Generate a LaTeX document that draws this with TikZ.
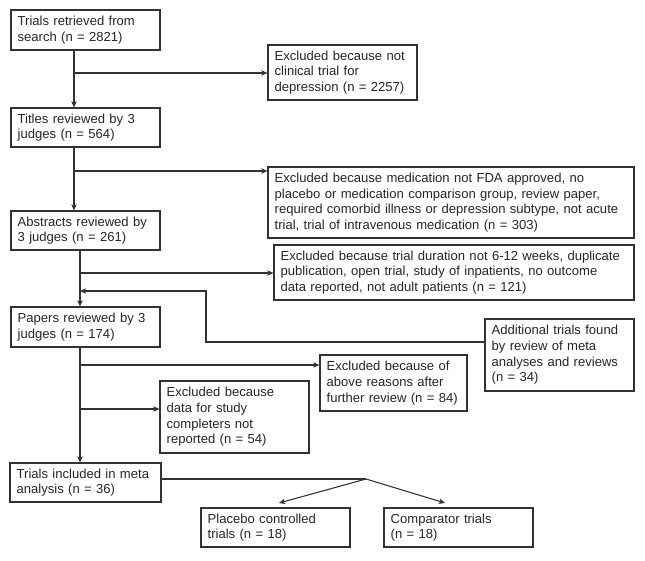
\documentclass[tikz,border=0pt]{standalone}
\usepackage{fontspec}
\setmainfont{Liberation Sans}
\usetikzlibrary{calc,arrows.meta}
\tikzset{
    box/.style={draw=black!80, line width=0.9pt, align=left, inner xsep=5pt, inner ysep=0pt,
      minimum width=111.75pt, text width=101.75pt, text=black!85, font=\fontsize{9.8}{11.8}\selectfont},
    fleche/.style={draw=black!80, line width=0.8pt, -{Stealth[length=4.5pt,width=4pt,inset=1pt]}},
    trait/.style={draw=black!80, line width=0.8pt},
  }
\begin{document}
\begin{tikzpicture}[x=0.75pt,y=-0.75pt]
	\useasboundingbox (0,0) rectangle (645,560);
	%main column
	\node[box, minimum height=30pt] (search) at (85.5,30) {Trials retrieved from\\search (n = 2821)};
	\node[box, minimum height=29.25pt] (titles) at (85.5,127.5) {Titles reviewed by 3\\judges (n = 564)};
	\node[box, minimum height=29.25pt] (abstracts) at (85.5,230.5) {Abstracts reviewed by\\3 judges (n = 261)};
	\node[box, minimum height=30pt] (papers) at (85.5,327) {Papers reviewed by 3\\judges (n = 174)};
	\node[box, minimum height=29.25pt, minimum width=113.25pt, text width=103.25pt] (included) at (85.5,482.5) {Trials included in meta\\analysis (n = 36)};
	
	%exclusions
	\node[box, minimum height=41.25pt] (ex1) at (342.5,72.5) {Excluded because not\\clinical trial for\\depression (n = 2257)};
	\node[box, minimum height=53.25pt, minimum width=274.5pt, text width=264.5pt] (ex2) at (451,202.5) {Excluded because medication not FDA approved, no\\placebo or medication comparison group, review paper,\\required comorbid illness or depression subtype, not acute\\trial, trial of intravenous medication (n = 303)};
	\node[box, minimum height=41.25pt, minimum width=270pt, text width=260pt] (ex3) at (454,272.5) {Excluded because trial duration not 6-12 weeks, duplicate\\publication, open trial, study of inpatients, no outcome\\data reported, not adult patients (n = 121)};
	\node[box, minimum height=54pt] (additional) at (559.5,355) {Additional trials found\\by review of meta\\analyses and reviews\\(n = 34)};
	\node[box, minimum height=42pt, minimum width=110.25pt, text width=100.25pt] (ex4) at (393.5,383) {Excluded because of\\above reasons after\\further review (n = 84)};
	\node[box, minimum height=54pt] (ex5) at (234.5,417) {Excluded because\\data for study\\completers not\\reported (n = 54)};
	
	%subgroups
	\node[box, minimum height=29.25pt] (placebo) at (275.5,527.5) {Placebo controlled\\trials (n = 18)};
	\node[box, minimum height=29.25pt] (comparator) at (458.5,527.5) {Comparator trials\\(n = 18)};
	
	%trunk and branches
	\coordinate (t1) at (74,73);
	\coordinate (t2) at (74,171);
	\coordinate (t3) at (80,273);
	\coordinate (t4) at (80,365);
	\coordinate (t5) at (80,409);
	\draw[fleche] (search.south -| t1) -- (titles.north -| t1);
	\draw[fleche] (t1) -- (t1 -| ex1.west);
	\draw[fleche] (titles.south -| t2) -- (abstracts.north -| t2);
	\draw[fleche] (t2) -- (t2 -| ex2.west);
	\draw[fleche] (abstracts.south -| t3) -- (papers.north -| t3);
	\draw[fleche] (t3) -- (t3 -| ex3.west);
	\draw[fleche] (papers.south -| t4) -- (included.north -| t4);
	\draw[fleche] (t4) -- (t4 -| ex4.west);
	\draw[fleche] (t5) -- (t5 -| ex5.west);
	
	%additional trials back into the trunk
	\coordinate (m) at (206,342);
	\coordinate (m2) at (80,291);
	\draw[fleche] (additional.west |- m) -- (m) |- (m2);
	
	%split
	\coordinate (s) at (366,479);
	\coordinate (p) at (279,503);
	\coordinate (c) at (445,503);
	\draw[trait] (included.east |- s) -- (s);
	\draw[fleche] (s) -- (p);
	\draw[fleche] (s) -- (c);
\end{tikzpicture}
\end{document}
